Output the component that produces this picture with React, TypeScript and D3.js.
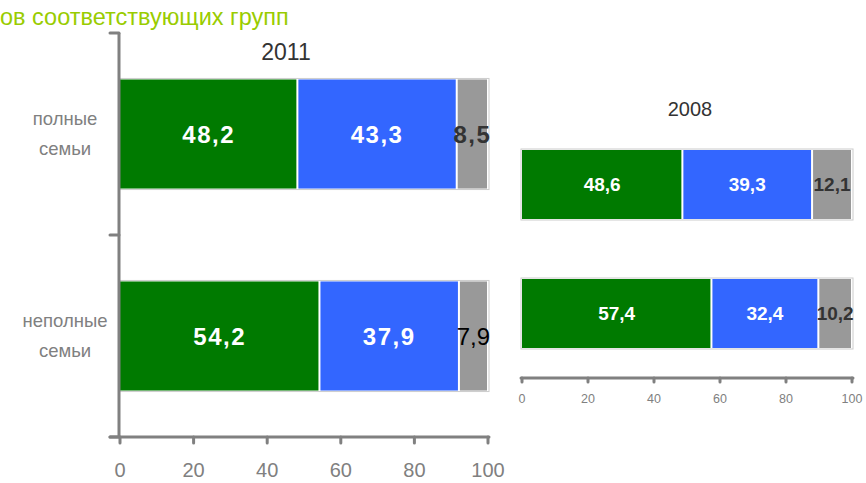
import { useEffect, useRef } from "react";
import * as d3 from "d3";

// categories and series
const categories = ["полные семьи", "неполные семьи"];
const categoryLines = [
	["полные", "семьи"],
	["неполные", "семьи"],
];
const seriesKeys = ["a", "b", "c"];
const values2011 = [
	[48.2, 43.3, 8.5],
	[54.2, 37.9, 7.9],
];
const values2008 = [
	[48.6, 39.3, 12.1],
	[57.4, 32.4, 10.2],
];
const ticks = [0, 20, 40, 60, 80, 100];
const colors = ["#007a00", "#3366ff", "#999999"];
const fmt = (v: number) => v.toFixed(1).replace(".", ",");
const FONT = "Liberation Sans, Arial, sans-serif";

function drawPanel(svg: any, opts: any) {
	const { values, x0, x1, y0, y1, inner, outer, title, titleX, titleY, titleSize, labelSize, tickSize, tickY, showY } = opts;

	const x = d3.scaleLinear().domain([0, 100]).range([x0, x1]);
	const y = d3.scaleBand().domain(categories).range([y0, y1]).paddingInner(inner).paddingOuter(outer);

	const g = svg.append("g");

	// outer light frame of each bar
	g.selectAll("rect.frame")
		.data(categories)
		.enter()
		.append("rect")
		.attr("x", x(0) - 1)
		.attr("y", (d: string) => (y(d) as number) - 1)
		.attr("width", x(100) - x(0) + 2)
		.attr("height", y.bandwidth() + 2)
		.attr("fill", "none")
		.attr("stroke", "#cccccc")
		.attr("stroke-width", 1);

	// stacked segments
	const stacked = categories.map((c, i) => {
		let acc = 0;
		return values[i].map((v: number, j: number) => {
			const s = { cat: c, key: seriesKeys[j], j, v, start: acc, end: acc + v };
			acc += v;
			return s;
		});
	}).flat();

	g.selectAll("rect.seg")
		.data(stacked)
		.enter()
		.append("rect")
		.attr("x", (d: any) => x(d.start) + (d.j === 0 ? 0 : 1))
		.attr("y", (d: any) => y(d.cat) as number)
		.attr("width", (d: any) => x(d.end) - x(d.start) - (d.j === 0 ? 1 : 2))
		.attr("height", y.bandwidth())
		.attr("fill", (d: any) => colors[d.j]);

	// the last label of the 2011 chart is plain black, the others bold
	const plain = (d: any) => opts.plainLast && d.j === 2 && d.cat === categories[1];
	g.selectAll("text.val")
		.data(stacked)
		.enter()
		.append("text")
		.attr("x", (d: any) => (x(d.start) + x(d.end)) / 2)
		.attr("y", (d: any) => (y(d.cat) as number) + y.bandwidth() / 2)
		.attr("dy", "0.36em")
		.attr("text-anchor", "middle")
		.attr("font-family", FONT)
		.attr("font-size", labelSize)
		.attr("font-weight", (d: any) => (plain(d) ? "normal" : "bold"))
		.attr("letter-spacing", (d: any) => (plain(d) ? 0 : opts.letterSpacing || 0))
		.attr("fill", (d: any) => (d.j === 2 ? (plain(d) ? "#000" : "#333333") : "#ffffff"))
		.text((d: any) => fmt(d.v));

	// x axis
	const axisY = tickY;
	g.append("line")
		.attr("x1", showY ? x0 - 10 : x0 - 1)
		.attr("x2", x1 + 1)
		.attr("y1", axisY)
		.attr("y2", axisY)
		.attr("stroke", "#808080")
		.attr("stroke-width", 3)
		.attr("stroke-linecap", "round");
	g.selectAll("line.tick")
		.data(ticks)
		.enter()
		.append("line")
		.attr("x1", (d: number) => x(d))
		.attr("x2", (d: number) => x(d))
		.attr("y1", axisY)
		.attr("y2", axisY + (showY ? 6 : 4))
		.attr("stroke", "#808080")
		.attr("stroke-width", 3)
		.attr("stroke-linecap", "round");
	g.selectAll("text.tick")
		.data(ticks)
		.enter()
		.append("text")
		.attr("x", (d: number) => x(d))
		.attr("y", axisY + opts.tickOffset)
		.attr("text-anchor", "middle")
		.attr("font-family", FONT)
		.attr("font-size", tickSize)
		.attr("fill", "#808080")
		.text((d: number) => d);

	// category axis
	if (showY) {
		const step = y.step();
		const bounds = [y0, y0 + step, y1];
		g.append("line")
			.attr("x1", x0 - 1)
			.attr("x2", x0 - 1)
			.attr("y1", y0)
			.attr("y2", y1)
			.attr("stroke", "#808080")
			.attr("stroke-width", 3);
		g.selectAll("line.ytick")
			.data(bounds)
			.enter()
			.append("line")
			.attr("x1", x0 - 10)
			.attr("x2", x0 - 1)
			.attr("y1", (d: number) => d)
			.attr("y2", (d: number) => d)
			.attr("stroke", "#808080")
			.attr("stroke-width", 3)
			.attr("stroke-linecap", "round");
		categories.forEach((c, i) => {
			const cy = (y(c) as number) + y.bandwidth() / 2;
			g.append("text")
				.attr("x", 65)
				.attr("y", cy - 9)
				.attr("text-anchor", "middle")
				.attr("font-family", FONT)
				.attr("font-size", 18.5)
				.attr("fill", "#808080")
				.selectAll("tspan")
				.data(categoryLines[i])
				.enter()
				.append("tspan")
				.attr("x", 65)
				.attr("dy", (d: string, k: number) => (k === 0 ? 0 : 30))
				.text((d: string) => d);
		});
	}

	g.append("text")
		.attr("x", titleX)
		.attr("y", titleY)
		.attr("text-anchor", "middle")
		.attr("font-family", FONT)
		.attr("font-size", titleSize)
		.attr("fill", "#333333")
		.text(title);
}

export default function App() {
	const ref = useRef<SVGSVGElement>(null);

	useEffect(() => {
		const svg = d3.select(ref.current);
		svg.selectAll("*").remove();

		svg.append("text")
			.attr("x", 0)
			.attr("y", 25)
			.attr("font-family", FONT)
			.attr("font-size", 23.5)
			.attr("fill", "#99cc00")
			.text("ов соответствующих групп");

		drawPanel(svg, {
			values: values2011,
			x0: 120, x1: 488, y0: 33, y1: 437,
			inner: 0.46, outer: 0.23,
			title: "2011", titleX: 286, titleY: 60, titleSize: 23,
			labelSize: 24, letterSpacing: 1.5, tickSize: 20, tickY: 437, tickOffset: 40,
			showY: true, plainLast: true,
		});
		drawPanel(svg, {
			values: values2008,
			x0: 522, x1: 852, y0: 120, y1: 378,
			inner: 0.465, outer: 0.2325,
			title: "2008", titleX: 690, titleY: 116, titleSize: 20,
			labelSize: 19, tickSize: 12.5, tickY: 378, tickOffset: 25,
			showY: false, plainLast: false,
		});
	}, []);

	return (
		<svg
			ref={ref}
			width={866}
			height={483}
			style={{ position: "absolute", left: 0, top: 0, background: "#fff" }}
		/>
	);
}
